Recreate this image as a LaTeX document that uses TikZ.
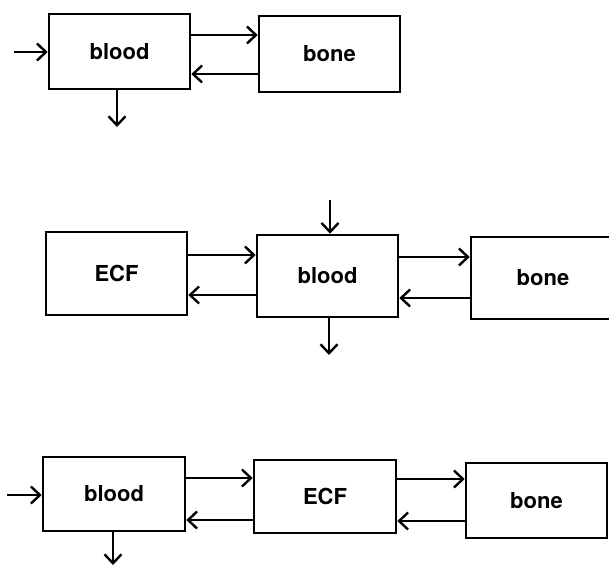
\documentclass[tikz,border=0pt]{standalone}
\usepackage{fontspec}
\setmainfont{TeX Gyre Heros}
\usetikzlibrary{arrows.meta}
\begin{document}
\begin{tikzpicture}[x=1pt,y=-1pt,
  box/.style={draw,line width=2.6pt,minimum width=141pt,minimum height=75pt,inner sep=0pt,font=\fontsize{22}{25}\selectfont\bfseries},
  flow/.style={line width=2.6pt,-{Straight Barb[length=9pt,width=17pt,line width=2.4pt]}}]
\useasboundingbox (0,0) rectangle (609,566);
% Row 1
\node[box] (b1) at (119.5,51.5) {blood};
\node[box,minimum height=76pt] (n1) at (329.5,54) {bone};
\coordinate (in1) at (14,52);
\coordinate (out1) at (117,127);
\draw[flow] (in1) -- (in1 -| b1.west);
\draw[flow] (out1 |- b1.south) -- (out1);
\draw[flow] (b1.east |- 0,35) -- (n1.west |- 0,35);
\draw[flow] (n1.west |- 0,74) -- (b1.east |- 0,74);
% Row 2
\node[box,minimum height=83pt] (e2) at (116.5,273.5) {ECF};
\node[box,minimum height=82pt] (b2) at (327.5,276) {blood};
\node[box,minimum width=144pt,minimum height=82pt] (n2) at (543,278) {bone};
\coordinate (in2) at (330,200);
\coordinate (out2) at (329,355);
\draw[flow] (in2) -- (in2 |- b2.north);
\draw[flow] (out2 |- b2.south) -- (out2);
\draw[flow] (e2.east |- 0,255) -- (b2.west |- 0,255);
\draw[flow] (b2.west |- 0,295) -- (e2.east |- 0,295);
\draw[flow] (b2.east |- 0,257) -- (n2.west |- 0,257);
\draw[flow] (n2.west |- 0,298) -- (b2.east |- 0,298);
% Row 3
\node[box,minimum width=142pt,minimum height=74pt] (b3) at (114,494) {blood};
\node[box,minimum width=142pt,minimum height=73pt] (e3) at (325,496.5) {ECF};
\node[box] (n3) at (536.5,500.5) {bone};
\coordinate (in3) at (7,495);
\coordinate (out3) at (113,565);
\draw[flow] (in3) -- (in3 -| b3.west);
\draw[flow] (out3 |- b3.south) -- (out3);
\draw[flow] (b3.east |- 0,478) -- (e3.west |- 0,478);
\draw[flow] (e3.west |- 0,520) -- (b3.east |- 0,520);
\draw[flow] (e3.east |- 0,479) -- (n3.west |- 0,479);
\draw[flow] (n3.west |- 0,521) -- (e3.east |- 0,521);
\end{tikzpicture}
\end{document}
